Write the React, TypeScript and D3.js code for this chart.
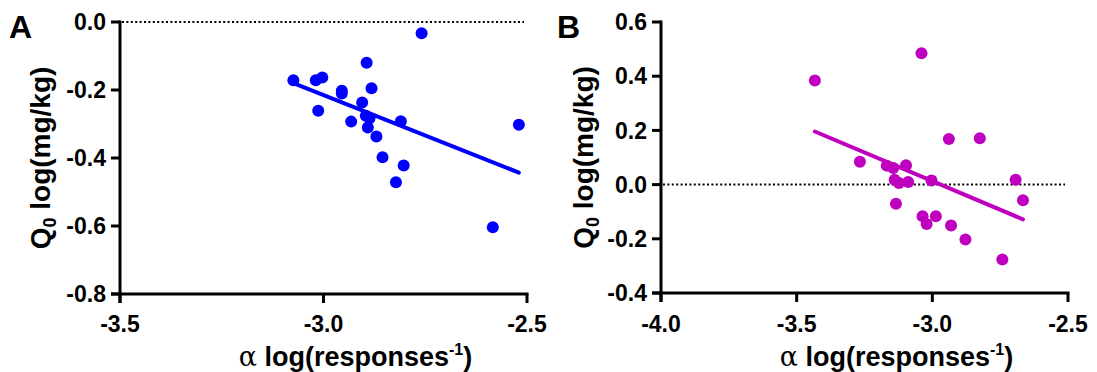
import React from "react";
import * as d3 from "d3";

// Panel A data: alpha (log responses^-1) vs Q0 (log mg/kg)
const alphaA = [-3.074, -3.019, -3.003, -3.013, -2.955, -2.955, -2.894, -2.882, -2.905, -2.932, -2.896, -2.887, -2.891, -2.870, -2.810, -2.855, -2.803, -2.822, -2.759, -2.520, -2.584];
const q0A = [-0.171, -0.171, -0.163, -0.261, -0.202, -0.210, -0.120, -0.195, -0.237, -0.293, -0.276, -0.283, -0.310, -0.337, -0.292, -0.398, -0.422, -0.471, -0.033, -0.302, -0.604];
const fitA = { slope: -0.4745, intercept: -1.6386 };

// Panel B data
const alphaB = [-3.433, -3.040, -3.267, -3.168, -3.144, -3.097, -3.139, -3.123, -3.089, -3.003, -3.134, -3.036, -3.021, -2.987, -2.931, -2.878, -2.939, -2.825, -2.693, -2.666, -2.742];
const q0B = [0.384, 0.485, 0.084, 0.070, 0.061, 0.071, 0.018, 0.006, 0.010, 0.015, -0.071, -0.117, -0.145, -0.117, -0.151, -0.203, 0.168, 0.171, 0.018, -0.058, -0.276];
const fitB = { slope: -0.4226, intercept: -1.2548 };

const xTicksA = [-3.5, -3.0, -2.5];
const yTicksA = [0.0, -0.2, -0.4, -0.6, -0.8];
const xTicksB = [-4.0, -3.5, -3.0, -2.5];
const yTicksB = [0.6, 0.4, 0.2, 0.0, -0.2, -0.4];

const FONT = "'Liberation Sans', Arial, Helvetica, sans-serif";

type PanelProps = {
  letter: string;
  xs: number[];
  ys: number[];
  fit: { slope: number; intercept: number };
  xDomain: [number, number];
  yDomain: [number, number];
  xRange: [number, number];
  yRange: [number, number];
  xTicks: number[];
  yTicks: number[];
  color: string;
  letterX: number;
  yTitleX: number;
};

function Panel(p: PanelProps) {
  const x = d3.scaleLinear().domain(p.xDomain).range(p.xRange);
  const y = d3.scaleLinear().domain(p.yDomain).range(p.yRange);
  const f1 = d3.format(".1f");
  const fmt = (v: number) => f1(v).replace("\u2212", "-");
  const tick = 9;
  const x0 = p.xRange[0];
  const y0 = p.yRange[0];
  const xmin = d3.min(p.xs) as number;
  const xmax = d3.max(p.xs) as number;
  const fy = (v: number) => p.fit.slope * v + p.fit.intercept;
  const cx = (p.xRange[0] + p.xRange[1]) / 2 + 32;
  const cy = (p.yRange[0] + p.yRange[1]) / 2;
  return (
    <g>
      <text x={p.letterX} y={38} fontFamily={FONT} fontWeight="bold" fontSize={32} fill="#000">{p.letter}</text>
      {/* zero dotted line */}
      <line x1={x0 + 2} x2={p.xRange[1] - 3} y1={y(0)} y2={y(0)} stroke="#000" strokeWidth={2} strokeDasharray="2 2.4" />
      {/* fit line */}
      <line x1={x(xmin)} x2={x(xmax)} y1={y(fy(xmin))} y2={y(fy(xmax))} stroke={p.color} strokeWidth={4} strokeLinecap="round" />
      {p.xs.map((v, i) => (
        <circle key={i} cx={x(v)} cy={y(p.ys[i])} r={6} fill={p.color} />
      ))}
      {/* axes */}
      <line x1={x0} x2={x0} y1={p.yRange[1] - 1.5} y2={y0 + tick} stroke="#000" strokeWidth={3} />
      <line x1={x0 - tick} x2={p.xRange[1] + 1.5} y1={y0} y2={y0} stroke="#000" strokeWidth={3} />
      {p.yTicks.map((t) => (
        <g key={"y" + t}>
          <line x1={x0 - tick} x2={x0} y1={y(t)} y2={y(t)} stroke="#000" strokeWidth={3} />
          <text x={x0 - 14} y={y(t)} dy="0.36em" textAnchor="end" fontFamily={FONT} fontWeight="bold" fontSize={23}>{fmt(t)}</text>
        </g>
      ))}
      {p.xTicks.map((t) => (
        <g key={"x" + t}>
          <line x1={x(t)} x2={x(t)} y1={y0} y2={y0 + tick} stroke="#000" strokeWidth={3} />
          <text x={x(t)} y={332} textAnchor="middle" fontFamily={FONT} fontWeight="bold" fontSize={23}>{fmt(t)}</text>
        </g>
      ))}
      <text x={cx} y={366} textAnchor="middle" fontFamily={FONT} fontWeight="bold" fontSize={27}>
        <tspan fontFamily="'DejaVu Serif', 'Liberation Serif', serif" fontWeight="normal">α</tspan>
        <tspan> log(responses</tspan>
        <tspan fontSize={16} dy={-11}>-1</tspan>
        <tspan dy={11}>)</tspan>
      </text>
      <text transform={`translate(${p.yTitleX},${cy}) rotate(-90)`} textAnchor="middle" fontFamily={FONT} fontWeight="bold" fontSize={28}>
        <tspan>Q</tspan>
        <tspan fontSize={18} dy={6}>0</tspan>
        <tspan dy={-6}> log(mg/kg)</tspan>
      </text>
    </g>
  );
}

export default function App() {
  return (
    <svg width={1097} height={372} style={{ position: "absolute", left: 0, top: 0, background: "#fff" }}>
      <rect width={1097} height={372} fill="#fff" />
      <Panel letter="A" xs={alphaA} ys={q0A} fit={fitA} xDomain={[-3.5, -2.5]} yDomain={[-0.8, 0]} xRange={[120, 527]} yRange={[294, 22]} xTicks={xTicksA} yTicks={yTicksA} color="#0000FF" letterX={9} yTitleX={50} />
      <Panel letter="B" xs={alphaB} ys={q0B} fit={fitB} xDomain={[-4, -2.5]} yDomain={[-0.4, 0.6]} xRange={[661, 1068]} yRange={[293, 22]} xTicks={xTicksB} yTicks={yTicksB} color="#BF00BF" letterX={557} yTitleX={593} />
    </svg>
  );
}
